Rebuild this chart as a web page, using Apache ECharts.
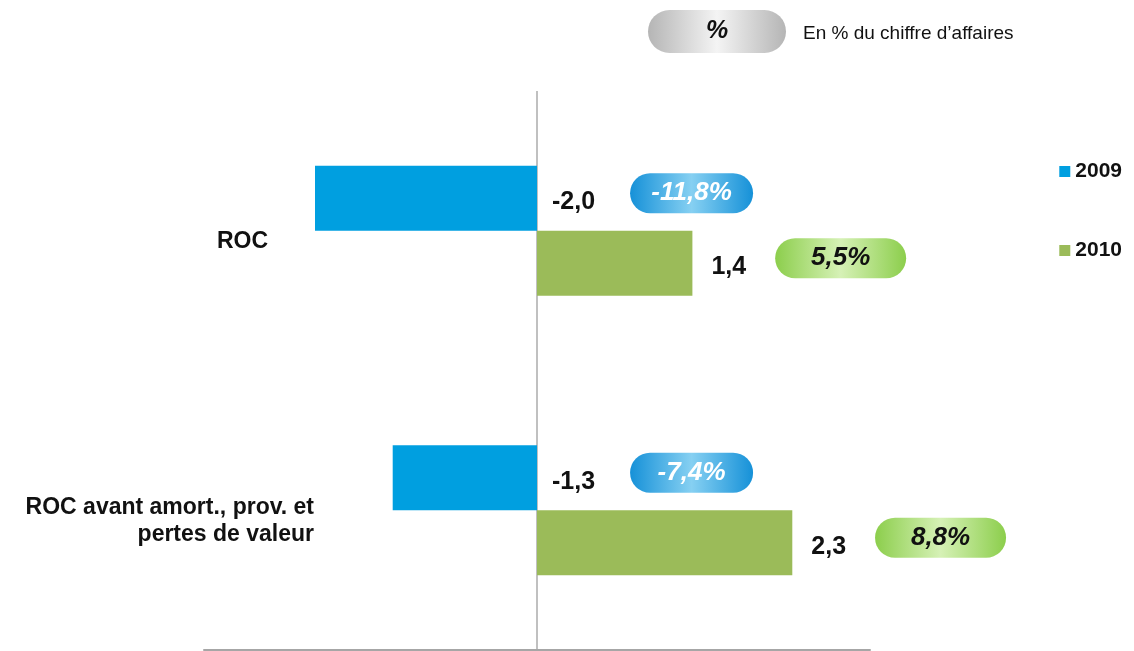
<!DOCTYPE html>
<html>
<head>
<meta charset="utf-8">
<script src="https://cdn.jsdelivr.net/npm/echarts@6/dist/echarts.min.js"></script>
<style>
  html, body { margin: 0; padding: 0; background: #fff; }
  #chart { width: 1134px; height: 651px; }
</style>
</head>
<body>
<div id="chart"></div>
<script>
// Operating income (ROC) in M€, with margin as % of revenue
const categories = ['ROC', 'ROC avant amort., prov. et\npertes de valeur'];
const seriesNames = ['2009', '2010'];
const values2009 = [-2.0, -1.3];
const values2010 = [1.4, 2.3];
const margin2009 = [-11.8, -7.4];
const margin2010 = [5.5, 8.8];

const FONT = '"Liberation Sans", Arial, sans-serif';
const BLUE = '#009fe0';
const GREEN = '#9bbb59';

const fmt = v => v.toFixed(1).replace('.', ',');

function pillGradient(edge, mid) {
  return new echarts.graphic.LinearGradient(0, 0, 1, 0, [
    { offset: 0, color: edge },
    { offset: 0.5, color: mid },
    { offset: 1, color: edge }
  ]);
}

function valueRich(pillName, gap, pillWidth, edge, mid, textColor) {
  const rich = {
    v: { fontFamily: FONT, fontSize: 25, fontWeight: 'bold', color: '#111', padding: [18, gap, 0, 0] }
  };
  rich[pillName] = {
    fontFamily: FONT, fontSize: 26, fontWeight: 'bold', fontStyle: 'italic',
    color: textColor, width: pillWidth, height: 40, align: 'center',
    backgroundColor: pillGradient(edge, mid), borderRadius: 20
  };
  return rich;
}

const chart = echarts.init(document.getElementById('chart'), null, { renderer: 'canvas' });

chart.setOption({
  animation: false,
  backgroundColor: '#fff',
  textStyle: { fontFamily: FONT },
  title: {
    left: 648, top: 10, padding: 0,
    text: '{p|%}{t|En % du chiffre d’affaires}',
    textStyle: {
      fontWeight: 'normal',
      rich: {
        p: {
          fontFamily: FONT, fontSize: 25, fontWeight: 'bold', fontStyle: 'italic', color: '#111',
          width: 138, height: 43, align: 'center', borderRadius: 22,
          backgroundColor: pillGradient('#b5b5b5', '#f4f4f4')
        },
        t: { fontFamily: FONT, fontSize: 19, fontWeight: 'normal', color: '#111', padding: [4, 0, 0, 17] }
      }
    }
  },
  legend: {
    data: seriesNames,
    orient: 'vertical',
    right: 7, top: 156,
    itemWidth: 11, itemHeight: 11, itemGap: 58,
    icon: 'rect',
    textStyle: { fontFamily: FONT, fontSize: 21, fontWeight: 'bold', color: '#111' }
  },
  grid: { left: 204, right: 264, top: 91, bottom: 1, containLabel: false },
  xAxis: {
    type: 'value', min: -3, max: 3, interval: 3,
    axisLabel: { show: false },
    axisTick: { show: false },
    axisLine: { show: true, onZero: false, lineStyle: { color: '#a6a6a6', width: 2 } },
    splitLine: { show: true, lineStyle: { color: ['rgba(0,0,0,0)', '#c0c0c0', 'rgba(0,0,0,0)'], width: 2 } }
  },
  yAxis: {
    type: 'category', data: categories, inverse: true,
    axisLine: { show: false }, axisTick: { show: false },
    axisLabel: {
      margin: -110, align: 'right', padding: [22, 0, 0, 0],
      formatter: (v, i) => (i === 0 ? '{a|' + v + '}' : '{b|' + v + '}'),
      rich: {
        a: { fontFamily: FONT, fontSize: 23, fontWeight: 'bold', color: '#111', padding: [0, 46, 0, 0] },
        b: { fontFamily: FONT, fontSize: 23, fontWeight: 'bold', color: '#111', lineHeight: 27 }
      }
    }
  },
  series: [
    {
      name: seriesNames[0], type: 'bar', data: values2009,
      barWidth: 65, barGap: '0%',
      itemStyle: { color: BLUE },
      label: {
        show: true, position: 'right', distance: 15, offset: [0, -5],
        formatter: p => '{v|' + fmt(p.value) + '}{pb|' + fmt(margin2009[p.dataIndex]) + '%}',
        rich: valueRich('pb', 35, 123, '#1691d8', '#86d0f2', '#fff')
      }
    },
    {
      name: seriesNames[1], type: 'bar', data: values2010,
      barWidth: 65, barGap: '0%',
      itemStyle: { color: GREEN },
      label: {
        show: true, position: 'right', distance: 19, offset: [0, -5],
        formatter: p => '{v|' + fmt(p.value) + '}{pg|' + fmt(margin2010[p.dataIndex]) + '%}',
        rich: valueRich('pg', 29, 131, '#8cce4c', '#d6f1b6', '#111')
      }
    }
  ]
});
</script>
</body>
</html>
